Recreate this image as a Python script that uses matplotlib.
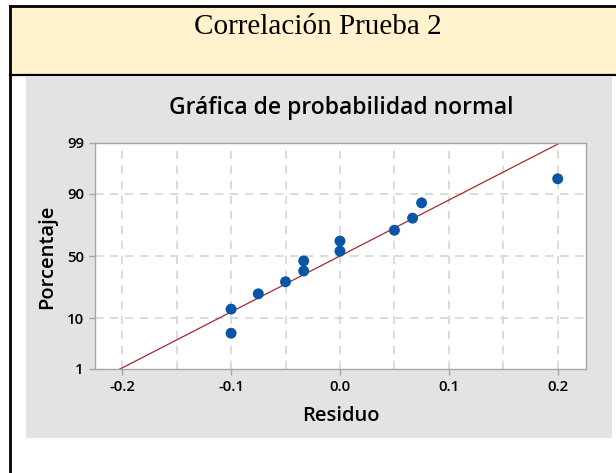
import matplotlib
matplotlib.use("Agg")
import matplotlib.pyplot as plt
import numpy as np
from matplotlib.patches import Rectangle
from matplotlib.lines import Line2D
from statistics import NormalDist

# values
residuo = [-0.1, -0.1, -0.075, -0.05, -0.0333, -0.0333, 0.0, 0.0, 0.05, 0.0667, 0.075, 0.2]
porcentaje = [5.6, 13.7, 21.8, 29.8, 37.9, 46.0, 54.0, 62.1, 70.2, 78.2, 86.3, 94.4]
y_ticks = [1, 10, 50, 90, 99]
x_ticks = [-0.2, -0.1, 0.0, 0.1, 0.2]
x_grid = [-0.2, -0.15, -0.1, -0.05, 0.0, 0.05, 0.1, 0.15, 0.2]

W, H = 616, 473
nd = NormalDist()


def fx(x):
    return x / W


def fy(y):
    return 1 - y / H


def z(p):
    return nd.inv_cdf(np.asarray(p) / 100.0) if np.ndim(p) == 0 else np.array([nd.inv_cdf(v / 100.0) for v in p])


fig = plt.figure(figsize=(W / 100, H / 100), dpi=100)
fig.patch.set_facecolor("white")

# page table: header cell + graph cell
fig.patches.append(Rectangle((fx(10), fy(75)), fx(W) - fx(10), fy(7) - fy(75),
                             transform=fig.transFigure, facecolor="#fff2cc", edgecolor="none", zorder=-10))
fig.patches.append(Rectangle((fx(26), fy(437.5)), fx(612) - fx(26), fy(77) - fy(437.5),
                             transform=fig.transFigure, facecolor="#e3e3e3", edgecolor="none", zorder=-10))
for xs, ys, lw in [((10, W), (6.5, 6.5), 2.0), ((10, W), (75, 75), 1.6), ((10, 10), (6, H), 2.0)]:
    fig.lines.append(Line2D([fx(v) for v in xs], [fy(v) for v in ys], transform=fig.transFigure,
                            color="black", lw=lw, zorder=-5))

fig.text(fx(318), fy(34), "Correlación Prueba 2", ha="center", va="baseline",
         family="Liberation Serif", fontsize=21)

ax = fig.add_axes([fx(95), fy(369), fx(586) - fx(95), fy(143) - fy(369)])
ax.set_facecolor("white")

zmin, zmax = z(1), z(99)
ax.set_xlim(-0.225, 0.226)
ax.set_ylim(zmin, zmax)

for g in x_grid:
    ax.axvline(g, color="#d6d6d6", lw=1.2, ls=(0, (5, 4)), zorder=1)
for t in [10, 50, 90]:
    ax.axhline(z(t), color="#d6d6d6", lw=1.2, ls=(0, (5, 4)), zorder=1)

# fitted normal line
mu = np.mean(residuo)
sd = np.std(residuo, ddof=1)
zz = np.array([zmin - 0.3, zmax + 0.3])
ax.plot(mu + sd * zz, zz, color="#a8282c", lw=0.9, zorder=2)

ax.scatter(residuo, z(porcentaje), s=62, color="#0a55a5", edgecolors="none", zorder=3)

ax.set_xticks(x_ticks)
ax.set_xticklabels(["-0.2", "-0.1", "0.0", "0.1", "0.2"])
ax.set_yticks(z(y_ticks))
ax.set_yticklabels([str(t) for t in y_ticks])
ax.tick_params(length=4, width=1, color="#a6a6a6", pad=4, labelsize=10.8)
for lab in ax.get_xticklabels() + ax.get_yticklabels():
    lab.set_family("Open Sans")
    lab.set_fontweight("semibold")
for s in ax.spines.values():
    s.set_color("#a6a6a6")
    s.set_linewidth(1)

fig.text(fx(341), fy(114.5), "Gráfica de probabilidad normal", ha="center", va="baseline",
         family="Open Sans", fontweight="semibold", fontsize=16.5)
fig.text(fx(341), fy(420.5), "Residuo", ha="center", va="baseline",
         family="Open Sans", fontweight="semibold", fontsize=14.5)
fig.text(fx(47), fy(257), "Porcentaje", ha="center", va="center", rotation=90,
         family="Open Sans", fontweight="semibold", fontsize=14.5)

fig.savefig("out.png", dpi=100)
